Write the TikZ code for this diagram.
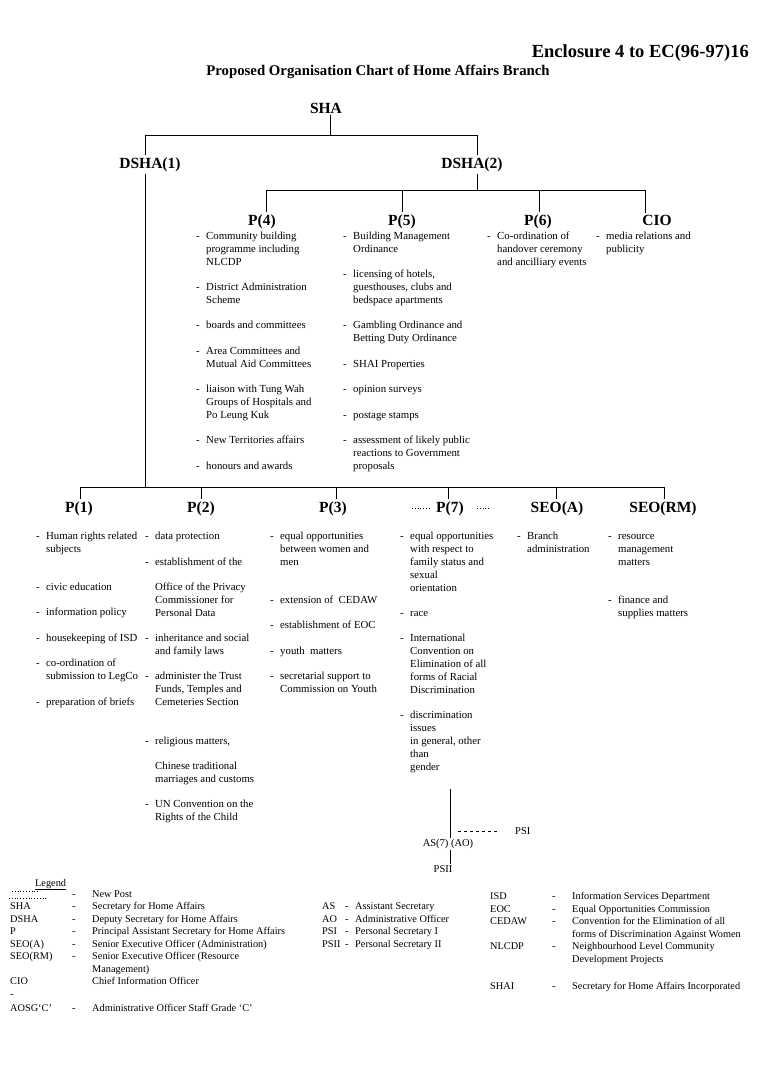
\documentclass[tikz,border=0pt]{standalone}
\usepackage{fontspec}
\setmainfont{Liberation Serif}
\newcommand\bul[4]{%
  \node[txt] (#1d) at ({#2-10},{#3-6.2}) {\strut-};
  \node[txt] (#1) at (#2,{#3-6.2}) {\strut#4};}
\newcommand\plain[4]{%
  \node[txt] (#1) at (#2,{#3-6.2}) {\strut#4};}
\begin{document}
\begin{tikzpicture}[x=1pt,y=-1pt,
  hd/.style={font=\bfseries\fontsize{15.5}{18}\selectfont, inner xsep=0pt, inner ysep=2pt, anchor=base},
  txt/.style={anchor=north west, inner sep=0pt, align=left, font=\fontsize{10.8}{13}\selectfont},
  lg/.style={anchor=base west, inner sep=0pt, font=\fontsize{10.3}{12.5}\selectfont},
  sm/.style={inner sep=1pt, font=\fontsize{10.5}{13}\selectfont},
  ln/.style={line width=1pt},
  newpost/.style={line width=0.8pt, dotted},
  dashln/.style={line width=0.7pt, dash pattern=on 3pt off 3pt}]
\useasboundingbox (0,0) rectangle (772,1073);
\fill[white] (0,0) rectangle (772,1073);

% titles
\node[anchor=base east, inner sep=0pt, font=\bfseries\fontsize{18.5}{21}\selectfont] (t1) at (749,58) {Enclosure 4 to EC(96-97)16};
\node[anchor=base, inner sep=0pt, font=\bfseries\fontsize{14.8}{17}\selectfont] (t2) at (378,75) {Proposed Organisation Chart of Home Affairs Branch};

% headings (positions are baselines)
\node[hd] (SHA) at (326,113) {SHA};
\node[hd] (D1) at (150,168) {DSHA(1)};
\node[hd] (D2) at (472,168) {DSHA(2)};
\node[hd] (P4) at (262,225) {P(4)};
\node[hd] (P5) at (402,225) {P(5)};
\node[hd] (P6) at (538,225) {P(6)};
\node[hd] (CIO) at (657,225) {CIO};
\node[hd] (P1) at (79,512) {P(1)};
\node[hd] (P2) at (201,512) {P(2)};
\node[hd] (P3) at (333,512) {P(3)};
\node[hd] (P7) at (450,512) {P(7)};
\node[hd] (SEOA) at (557,512) {SEO(A)};
\node[hd] (SEORM) at (663,512) {SEO(RM)};

% connectors top
\coordinate (j0) at (330,135);
\coordinate (xD1) at (145,135);
\coordinate (xD2) at (477,135);
\draw[ln] (SHA.south -| j0) -- (j0);
\draw[ln] (D1.north -| xD1) -- (xD1) -- (xD2) -- (D2.north -| xD2);
\coordinate (j2) at (477,190);
\draw[ln] (D2.south -| xD2) -- (j2);
\coordinate (x4) at (266,190);
\coordinate (x5) at (402,190);
\coordinate (x6) at (539,190);
\coordinate (xC) at (645,190);
\draw[ln] (x4) -- (xC);
\draw[ln] (x4) -- (P4.north -| x4);
\draw[ln] (x5) -- (P5.north -| x5);
\draw[ln] (x6) -- (P6.north -| x6);
\draw[ln] (xC) -- (CIO.north -| xC);
% connectors bottom
\coordinate (bj) at (145,487);
\draw[ln] (D1.south -| xD1) -- (bj);
\coordinate (y1) at (80,487);
\coordinate (y2) at (201,487);
\coordinate (y3) at (336,487);
\coordinate (y7) at (448,487);
\coordinate (yA) at (556,487);
\coordinate (yR) at (664,487);
\draw[ln] (y1) -- (yR);
\draw[ln] (y1) -- (P1.north -| y1);
\draw[ln] (y2) -- (P2.north -| y2);
\draw[ln] (y3) -- (P3.north -| y3);
\draw[ln] (y7) -- (P7.north -| y7);
\draw[ln] (yA) -- (SEOA.north -| yA);
\draw[ln] (yR) -- (SEORM.north -| yR);
% new post marks round P(7)
\draw[newpost] (412,508) -- (430,508);
\draw[newpost] (477,508) -- (489,508);

% P(4)
\bul{a1}{206}{236}{Community building\\programme including\\NLCDP}
\bul{a2}{206}{287}{District Administration\\Scheme}
\bul{a3}{206}{325}{boards and committees}
\bul{a4}{206}{351}{Area Committees and\\Mutual Aid Committees}
\bul{a5}{206}{389}{liaison with Tung Wah\\Groups of Hospitals and\\Po Leung Kuk}
\bul{a6}{206}{440}{New Territories affairs}
\bul{a7}{206}{466}{honours and awards}
% P(5)
\bul{b1}{353}{236}{Building Management\\Ordinance}
\bul{b2}{353}{274}{licensing of hotels,\\guesthouses, clubs and\\bedspace apartments}
\bul{b3}{353}{325}{Gambling Ordinance and\\Betting Duty Ordinance}
\bul{b4}{353}{364}{SHAI Properties}
\bul{b5}{353}{389}{opinion surveys}
\bul{b6}{353}{415}{postage stamps}
\bul{b7}{353}{440}{assessment of likely public\\reactions to Government\\proposals}
% P(6)
\bul{c1}{497}{236}{Co-ordination of\\handover ceremony\\and ancilliary events}
% CIO
\bul{d1}{606}{236}{media relations and\\publicity}

% P(1)
\bul{e1}{46}{536}{Human rights related\\subjects}
\bul{e2}{46}{587}{civic education}
\bul{e3}{46}{612}{information policy}
\bul{e4}{46}{638}{housekeeping of ISD}
\bul{e5}{46}{663}{co-ordination of\\submission to LegCo}
\bul{e6}{46}{702}{preparation of briefs}
% P(2)
\bul{f1}{155}{536}{data protection}
\bul{f2}{155}{562}{establishment of the}
\plain{f3}{155}{587}{Office of the Privacy\\Commissioner for\\Personal Data}
\bul{f4}{155}{638}{inheritance and social\\and family laws}
\bul{f5}{155}{676}{administer the Trust\\Funds, Temples and\\Cemeteries Section}
\bul{f6}{155}{741}{religious matters,}
\plain{f7}{155}{766}{Chinese traditional\\marriages and customs}
\bul{f8}{155}{804}{UN Convention on the\\Rights of the Child}
% P(3)
\bul{g1}{280}{536}{equal opportunities\\between women and\\men}
\bul{g2}{280}{600}{extension of\ \ CEDAW}
\bul{g3}{280}{625}{establishment of EOC}
\bul{g4}{280}{651}{youth\ \ matters}
\bul{g5}{280}{676}{secretarial support to\\Commission on Youth}
% P(7)
\bul{h1}{410}{536}{equal opportunities\\with respect to\\family status and\\sexual\\orientation}
\bul{h2}{410}{613}{race}
\bul{h3}{410}{638}{International\\Convention on\\Elimination of all\\forms of Racial\\Discrimination}
\bul{h4}{410}{715}{discrimination\\issues\\in general, other\\than\\gender}
% SEO(A)
\bul{k1}{527}{536}{Branch\\administration}
% SEO(RM)
\bul{m1}{618}{536}{resource\\management\\matters}
\bul{m2}{618}{600}{finance and\\supplies matters}

% AS(7)
\node[sm] (AS7) at (448,844) {AS(7) (AO)};
\node[sm, anchor=west] (PSI) at (514,831) {PSI};
\node[sm] (PSII) at (443,869) {PSII};
\coordinate (asTop) at (450,789);
\coordinate (asJ) at (458,831);
\draw[line width=0.8pt] (asTop) -- (AS7.north -| asTop);
\draw[line width=0.8pt] (AS7.south -| asTop) -- (PSII.north -| asTop);
\draw[dashln, shorten >=16pt] (asJ) -- (PSI.west);

% legend
\node[lg] (lgT) at (35,886) {\underline{Legend}};
\draw[newpost] (12,891) -- (40,891);
\draw[newpost] (9,898) -- (46,898);
\node[lg] (l1d) at (72,897) {-};
\node[lg] (l1) at (92,897) {New Post};
\node[lg] (l2a) at (10,909.5) {SHA};
\node[lg] (l2d) at (72,909.5) {-};
\node[lg] (l2) at (92,909.5) {Secretary for Home Affairs};
\node[lg] (l3a) at (10,922) {DSHA};
\node[lg] (l3d) at (72,922) {-};
\node[lg] (l3) at (92,922) {Deputy Secretary for Home Affairs};
\node[lg] (l4a) at (10,934.5) {P};
\node[lg] (l4d) at (72,934.5) {-};
\node[lg] (l4) at (92,934.5) {Principal Assistant Secretary for Home Affairs};
\node[lg] (l5a) at (10,947) {SEO(A)};
\node[lg] (l5d) at (72,947) {-};
\node[lg] (l5) at (92,947) {Senior Executive Officer (Administration)};
\node[lg] (l6a) at (10,959.5) {SEO(RM)};
\node[lg] (l6d) at (72,959.5) {-};
\node[lg] (l6) at (92,959.5) {Senior Executive Officer (Resource};
\node[lg] (l6b) at (92,972) {Management)};
\node[lg] (l7a) at (10,984.5) {CIO};
\node[lg] (l7) at (92,984.5) {Chief Information Officer};
\node[lg] (l7d) at (10,997) {-};
\node[lg] (l8a) at (10,1011) {AOSG`C'};
\node[lg] (l8d) at (72,1011) {-};
\node[lg] (l8) at (92,1011) {Administrative Officer Staff Grade `C'};

\node[lg] (m1a) at (322,909.5) {AS};
\node[lg] (m1d) at (345,909.5) {-};
\node[lg] (m1t) at (355,909.5) {Assistant Secretary};
\node[lg] (m2a) at (322,922) {AO};
\node[lg] (m2d) at (345,922) {-};
\node[lg] (m2t) at (355,922) {Administrative Officer};
\node[lg] (m3a) at (322,934.5) {PSI};
\node[lg] (m3d) at (345,934.5) {-};
\node[lg] (m3t) at (355,934.5) {Personal Secretary I};
\node[lg] (m4a) at (322,947) {PSII};
\node[lg] (m4d) at (345,947) {-};
\node[lg] (m4t) at (355,947) {Personal Secretary II};

\node[lg] (r1a) at (490,899.5) {ISD};
\node[lg] (r1d) at (552,899.5) {-};
\node[lg] (r1t) at (572,899.5) {Information Services Department};
\node[lg] (r2a) at (490,912) {EOC};
\node[lg] (r2d) at (552,912) {-};
\node[lg] (r2t) at (572,912) {Equal Opportunities Commission};
\node[lg] (r3a) at (490,924.5) {CEDAW};
\node[lg] (r3d) at (552,924.5) {-};
\node[lg] (r3t) at (572,924.5) {Convention for the Elimination of all};
\node[lg] (r3b) at (572,937) {forms of Discrimination Against Women};
\node[lg] (r4a) at (490,949.5) {NLCDP};
\node[lg] (r4d) at (552,949.5) {-};
\node[lg] (r4t) at (572,949.5) {Neighbourhood Level Community};
\node[lg] (r4b) at (572,962) {Development Projects};
\node[lg] (r5a) at (490,989) {SHAI};
\node[lg] (r5d) at (552,989) {-};
\node[lg] (r5t) at (572,989) {Secretary for Home Affairs Incorporated};
\end{tikzpicture}
\end{document}
